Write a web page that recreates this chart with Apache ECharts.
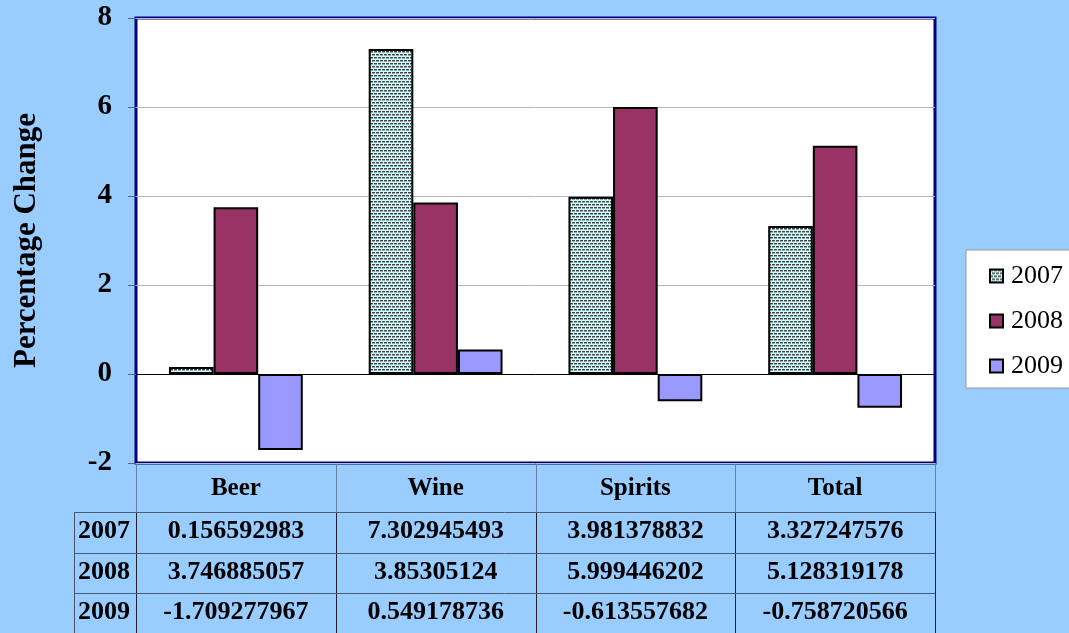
<!DOCTYPE html>
<html>
<head>
<meta charset="utf-8">
<script src="https://cdn.jsdelivr.net/npm/echarts@6/dist/echarts.min.js"></script>
<style>
html,body{margin:0;padding:0;background:#99CCFF;}
#chart{width:1069px;height:633px;}
</style>
</head>
<body>
<div id="chart"></div>
<script>
var categories = ['Beer', 'Wine', 'Spirits', 'Total'];
var seriesNames = ['2007', '2008', '2009'];
var values2007 = [0.156592983, 7.302945493, 3.981378832, 3.327247576];
var values2008 = [3.746885057, 3.85305124, 5.999446202, 5.128319178];
var values2009 = [-1.709277967, 0.549178736, -0.613557682, -0.758720566];
var tableText2007 = ['0.156592983', '7.302945493', '3.981378832', '3.327247576'];
var tableText2008 = ['3.746885057', '3.85305124', '5.999446202', '5.128319178'];
var tableText2009 = ['-1.709277967', '0.549178736', '-0.613557682', '-0.758720566'];
var yTicks = [-2, 0, 2, 4, 6, 8];

var FONT = '"Liberation Serif","Times New Roman",serif';
var W = 1069, H = 633;
var gridL = 136, gridR = 935, gridT = 18, gridB = 463;

// pattern for 2007
var pc = document.createElement('canvas');
pc.width = 8; pc.height = 6;
var ctx = pc.getContext('2d');
ctx.fillStyle = '#CCFFFF';
ctx.fillRect(0, 0, 8, 6);
ctx.fillStyle = '#444444';
ctx.fillRect(0, 0, 3, 1); ctx.fillRect(4, 0, 3, 1);
ctx.fillRect(2, 3, 3, 1); ctx.fillRect(6, 3, 2, 1); ctx.fillRect(0, 3, 1, 1);
ctx.fillStyle = '#8AA8A8';
ctx.fillRect(0, 1, 3, 1); ctx.fillRect(4, 1, 3, 1);
ctx.fillRect(2, 4, 3, 1); ctx.fillRect(6, 4, 2, 1); ctx.fillRect(0, 4, 1, 1);
var pattern2007 = {image: pc, repeat: 'repeat'};

var colors = [pattern2007, '#993366', '#9999FF'];
var allValues = [values2007, values2008, values2009];
var tableTexts = [tableText2007, tableText2008, tableText2009];

// table graphics
var graphics = [];
var cw = (gridR - gridL) / categories.length;
var rowLines = [512, 553, 593, 633];
var headerLeft = 74;
for (var i = 0; i <= categories.length; i++) {
  var x = Math.round(gridL + i * cw) + 0.5;
  graphics.push({type: 'line', shape: {x1: x, y1: gridB, x2: x, y2: rowLines[0]}, style: {stroke: '#6680A0', lineWidth: 1}, silent: true});
  graphics.push({type: 'line', shape: {x1: x, y1: rowLines[0], x2: x, y2: H}, style: {stroke: '#222233', lineWidth: 1}, silent: true});
}
graphics.push({type: 'line', shape: {x1: headerLeft + 0.5, y1: rowLines[0], x2: headerLeft + 0.5, y2: H}, style: {stroke: '#445566', lineWidth: 1}, silent: true});
for (var r = 0; r < 3; r++) {
  var y = rowLines[r] + 0.5;
  graphics.push({type: 'line', shape: {x1: headerLeft, y1: y, x2: gridR, y2: y}, style: {stroke: '#4A5A70', lineWidth: 1}, silent: true});
}
for (var r = 0; r < 3; r++) {
  var cy = (rowLines[r] + rowLines[r + 1]) / 2 - 1;
  graphics.push({type: 'text', x: headerLeft + 4, y: cy, style: {text: seriesNames[r], font: 'bold 26px ' + FONT, fill: '#000', textAlign: 'left', textVerticalAlign: 'middle'}, silent: true});
  for (var c = 0; c < categories.length; c++) {
    graphics.push({type: 'text', x: gridL + (c + 0.5) * cw, y: cy, style: {text: tableTexts[r][c], font: 'bold 26px ' + FONT, fill: '#000', textAlign: 'center', textVerticalAlign: 'middle'}, silent: true});
  }
}

var series = seriesNames.map(function (name, k) {
  var s = {
    name: name,
    type: 'bar',
    data: allValues[k],
    barGap: '0%',
    barCategoryGap: '33%',
    itemStyle: {color: colors[k], borderColor: '#000', borderWidth: 2},
    emphasis: {disabled: true},
    animation: false
  };
  if (k === 0) {
    s.markLine = {silent: true, symbol: 'none', label: {show: false},
      lineStyle: {color: '#000', width: 1, type: 'solid'},
      data: [{yAxis: 0}], animation: false};
  }
  return s;
});

var chart = echarts.init(document.getElementById('chart'), null, {renderer: 'canvas'});
chart.setOption({
  backgroundColor: '#99CCFF',
  animation: false,
  grid: {left: gridL, right: W - gridR, top: gridT, bottom: H - gridB, show: true,
    backgroundColor: '#FFFFFF', borderColor: '#000080', borderWidth: 3},
  legend: {
    orient: 'vertical', left: 966, top: 250,
    backgroundColor: '#FFFFFF', borderColor: '#999999', borderWidth: 1,
    padding: [13, 40, 9, 23],
    itemWidth: 13, itemHeight: 13, itemGap: 19,
    icon: 'rect',
    itemStyle: {borderColor: '#000', borderWidth: 2},
    textStyle: {fontFamily: FONT, fontSize: 26, color: '#000', padding: [0, 0, 0, 3]},
    data: seriesNames,
    selectedMode: false
  },
  xAxis: {
    type: 'category', data: categories,
    axisLine: {show: false, onZero: false},
    axisTick: {show: false},
    axisLabel: {fontFamily: FONT, fontWeight: 'bold', fontSize: 25, color: '#000', margin: 13},
    splitLine: {show: false}
  },
  yAxis: {
    type: 'value', min: -2, max: 8, interval: 2,
    name: 'Percentage Change', nameLocation: 'middle', nameGap: 94,
    nameTextStyle: {fontFamily: FONT, fontWeight: 'bold', fontSize: 31, color: '#000'},
    axisLine: {show: false},
    axisTick: {show: true, length: 8, inside: false, lineStyle: {color: '#556677'}},
    axisLabel: {fontFamily: FONT, fontWeight: 'bold', fontSize: 29, color: '#000', margin: 24,
      formatter: function (v) { return yTicks.indexOf(v) >= 0 ? String(v) : ''; }},
    splitLine: {show: true, lineStyle: {color: '#B8B8B8', width: 1}}
  },
  graphic: graphics,
  series: series
});
</script>
</body>
</html>
